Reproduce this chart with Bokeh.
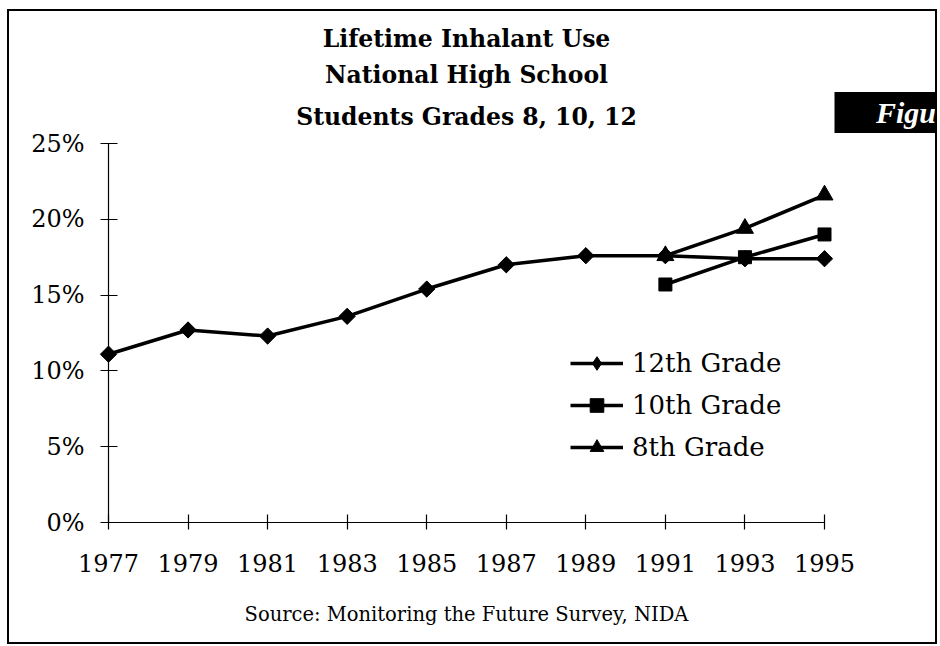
from bokeh.plotting import figure
from bokeh.models import Range1d, FixedTicker, PrintfTickFormatter, Legend, LegendItem, Title
from bokeh.embed import file_html
from bokeh.resources import INLINE
import math

# ---- data ----
years = [1977, 1979, 1981, 1983, 1985, 1987, 1989, 1991, 1993, 1995]
grade12 = [11.1, 12.7, 12.3, 13.6, 15.4, 17.0, 17.6, 17.6, 17.4, 17.4]
years_recent = [1991, 1993, 1995]
grade10 = [15.7, 17.5, 19.0]
grade8 = [17.6, 19.4, 21.6]
y_ticks = [0, 5, 10, 15, 20, 25]
series_names = ["12th Grade", "10th Grade", "8th Grade"]
title_lines = ["Lifetime Inhalant Use", "National High School", "Students Grades 8, 10, 12"]
source_text = "Source: Monitoring the Future Survey, NIDA"
corner_text = "\u00a0\u00a0\u00a0\u00a0\u00a0Figure"

SERIF = "DejaVu Serif"
X0, X1, Y0, Y1 = years[0], years[-1], y_ticks[0], y_ticks[-1]

p = figure(width=930, height=635, output_backend="svg", toolbar_location=None, title=None,
           x_range=Range1d(X0, X1), y_range=Range1d(Y0, Y1),
           min_border_left=99, min_border_right=115,
           min_border_top=132, min_border_bottom=124)
p.styles = {"border": "2px solid black", "margin": "9px 0px 0px 7px"}
p.outline_line_color = None
p.xgrid.grid_line_color = None
p.ygrid.grid_line_color = None
p.background_fill_color = "white"
p.border_fill_color = "white"

p.xaxis.ticker = FixedTicker(ticks=years)
p.yaxis.ticker = FixedTicker(ticks=y_ticks)
p.yaxis.formatter = PrintfTickFormatter(format="%d%%")
for ax in (p.xaxis, p.yaxis):
    ax.axis_line_color = "black"
    ax.axis_line_width = 1.2
    ax.major_tick_line_color = "black"
    ax.major_tick_line_width = 1.2
    ax.minor_tick_line_color = None
    ax.major_label_text_font = SERIF
    ax.major_label_text_font_size = "24px"
    ax.major_label_text_color = "black"
p.xaxis.major_tick_in = 8
p.xaxis.major_tick_out = 7
p.xaxis.major_label_standoff = 24
p.yaxis.major_tick_in = 9
p.yaxis.major_tick_out = 8
p.yaxis.major_label_standoff = 16

# source note below the year labels
p.xaxis.axis_label = source_text
p.xaxis.axis_label_standoff = 28
p.xaxis.axis_label_text_font = SERIF
p.xaxis.axis_label_text_font_size = "19.5px"
p.xaxis.axis_label_text_font_style = "normal"
p.xaxis.axis_label_text_color = "black"

LW = 3.5
r12l = p.line(years, grade12, line_width=LW, color="black", level="overlay")
r12m = p.scatter(years, grade12, marker="square", angle=math.pi / 4, size=11.5,
                 color="black", level="overlay")
# a diamond drawn inside each rotated square: it is what the legend shows
r12d = p.scatter(years, grade12, marker="diamond", size=15, color="black", level="overlay")
r10l = p.line(years_recent, grade10, line_width=LW, color="black", level="overlay")
r10m = p.scatter(years_recent, grade10, marker="square", size=13, color="black", level="overlay")
r8l = p.line(years_recent, grade8, line_width=LW, color="black", level="overlay")
r8m = p.scatter(years_recent, grade8, marker="triangle", size=17, color="black", level="overlay")

legend = Legend(items=[
    LegendItem(label=series_names[0], renderers=[r12l, r12d]),
    LegendItem(label=series_names[1], renderers=[r10l, r10m]),
    LegendItem(label=series_names[2], renderers=[r8l, r8m]),
], location=(462, 58))
legend.padding = 0
legend.margin = 0
legend.spacing = 8
legend.border_line_color = None
legend.background_fill_alpha = 0
legend.glyph_width = 53
legend.glyph_height = 34
legend.label_height = 34
legend.label_standoff = 9
legend.label_text_font = SERIF
legend.label_text_font_size = "26px"
legend.label_text_color = "black"
legend.label_text_baseline = "middle"
p.add_layout(legend)

# title: later-added titles sit farther from the frame
for i, txt in enumerate(reversed(title_lines)):
    p.add_layout(Title(text=txt, align="center",
                       standoff=(22 if i == 0 else 6),
                       vertical_align=("top" if i == 0 else "bottom"),
                       text_font=SERIF, text_font_style="bold", text_font_size="23.5px",
                       text_color="black"), "above")

# cut-off black "Figure" tab at the top right corner
p.text(x=[X1], y=[Y1], text=[corner_text], x_offset=10, y_offset=-31,
       text_align="left", text_baseline="middle",
       text_font=SERIF, text_font_style="bold italic", text_font_size="30px",
       text_color="white", background_fill_color="black", padding=4, level="overlay")

open("out.html", "w").write(file_html(p, INLINE))
